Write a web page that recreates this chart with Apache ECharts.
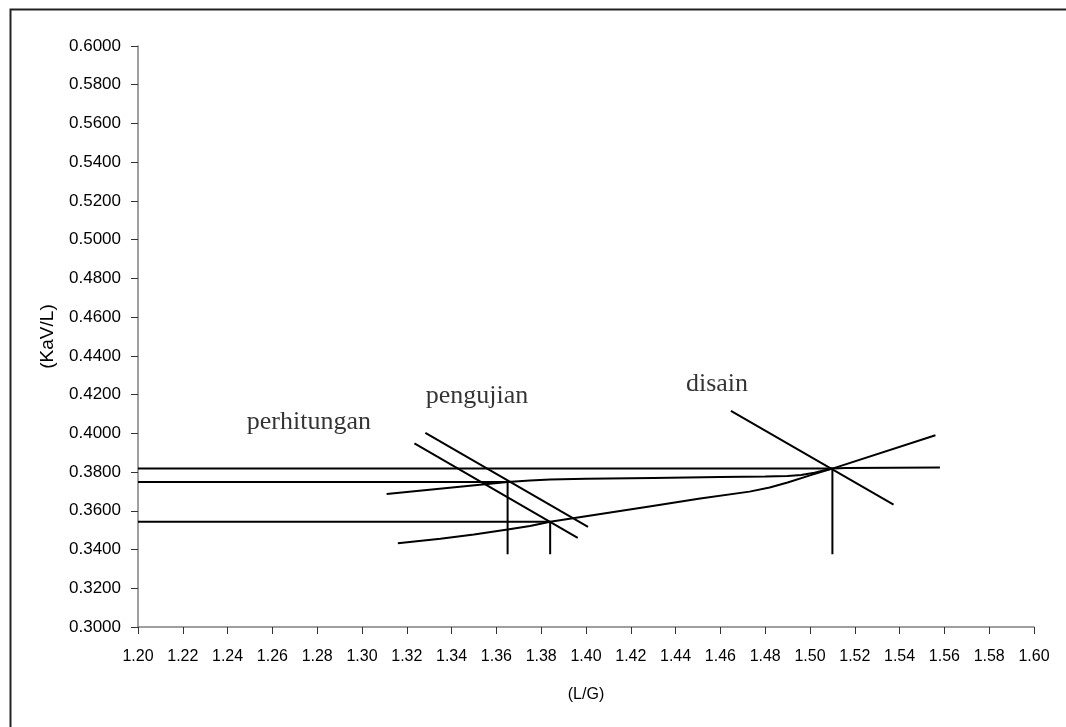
<!DOCTYPE html>
<html>
<head>
<meta charset="utf-8">
<script src="https://cdn.jsdelivr.net/npm/echarts@6/dist/echarts.min.js"></script>
<style>
  html, body { margin: 0; padding: 0; background: #fff; }
  #chart { width: 1066px; height: 727px; }
</style>
</head>
<body>
<div id="chart"></div>
<script>
// garis bantu (horizontal lalu turun vertikal)
const guideTop = [[1.20, 0.3818], [1.51, 0.3818], [1.51, 0.3376]];
const guideMiddle = [[1.20, 0.3749], [1.365, 0.3749], [1.365, 0.3376]];
const guideBottom = [[1.20, 0.3543], [1.384, 0.3543], [1.384, 0.3376]];

// kurva kesetimbangan
const curveUpper = [
  [1.311, 0.3687], [1.365, 0.3749], [1.375, 0.3757], [1.384, 0.3761],
  [1.400, 0.3765], [1.430, 0.3770], [1.460, 0.3774], [1.480, 0.3777],
  [1.490, 0.3780], [1.496, 0.3785], [1.502, 0.3797], [1.506, 0.3808],
  [1.510, 0.3818], [1.516, 0.3821], [1.558, 0.3824]
];
const curveLower = [
  [1.316, 0.3432], [1.335, 0.3456], [1.350, 0.3478], [1.365, 0.3503],
  [1.375, 0.3522], [1.384, 0.3543], [1.429, 0.3624], [1.451, 0.3664],
  [1.473, 0.3699], [1.482, 0.3720], [1.490, 0.3746], [1.500, 0.3783],
  [1.510, 0.3818], [1.556, 0.3990]
];

// garis operasi
const tieA = [[1.3283, 0.4002], [1.4009, 0.3517]];
const tieB = [[1.3234, 0.3948], [1.3963, 0.3460]];
const tieDisain = [[1.4647, 0.4116], [1.5373, 0.3632]];

const labelTexts = ['perhitungan', 'pengujian', 'disain'];
const labelPoints = [[1.2763, 0.4057], [1.3513, 0.4191], [1.4585, 0.4254]];

let myChart = echarts.init(document.getElementById('chart'));

function blackLine(data) {
  return {
    type: 'line',
    data: data,
    showSymbol: false,
    lineStyle: { color: '#000', width: 2 },
    silent: true
  };
}

myChart.setOption({
  animation: false,
  backgroundColor: '#fff',
  graphic: [{
    type: 'rect',
    left: 8,
    top: 7,
    shape: { width: 1200, height: 900 },
    style: { fill: 'none', stroke: '#222', lineWidth: 2 },
    silent: true
  }],
  grid: { left: 138, right: 32, top: 46, bottom: 100 },
  xAxis: {
    type: 'value',
    min: 1.20,
    max: 1.60,
    interval: 0.02,
    name: '(L/G)',
    nameLocation: 'middle',
    nameGap: 60,
    nameTextStyle: { fontFamily: 'Liberation Sans', fontSize: 16, color: '#000' },
    axisLine: { lineStyle: { color: '#808080', width: 1.5 } },
    axisTick: { length: 7, lineStyle: { color: '#333' } },
    axisLabel: {
      margin: 22,
      fontFamily: 'Liberation Sans',
      fontSize: 16,
      color: '#000',
      formatter: (v) => v.toFixed(2)
    },
    splitLine: { show: false }
  },
  yAxis: {
    type: 'value',
    min: 0.30,
    max: 0.60,
    interval: 0.02,
    name: '(KaV/L)',
    nameLocation: 'middle',
    nameGap: 81,
    nameTextStyle: { fontFamily: 'Liberation Sans', fontSize: 19, color: '#000' },
    axisLine: { show: true, lineStyle: { color: '#808080', width: 1.5 } },
    axisTick: { show: true, length: 7, lineStyle: { color: '#333' } },
    axisLabel: {
      margin: 17,
      fontFamily: 'Liberation Sans',
      fontSize: 17,
      color: '#000',
      formatter: (v) => v.toFixed(4)
    },
    splitLine: { show: false }
  },
  series: [
    blackLine(guideTop),
    blackLine(guideMiddle),
    blackLine(guideBottom),
    blackLine(curveUpper),
    blackLine(curveLower),
    blackLine(tieA),
    blackLine(tieB),
    blackLine(tieDisain),
    {
      type: 'scatter',
      symbolSize: 0,
      silent: true,
      data: labelPoints.map((p, i) => ({ value: p, name: labelTexts[i] })),
      label: {
        show: true,
        position: 'inside',
        formatter: (p) => p.name,
        fontFamily: 'Liberation Serif',
        fontSize: 26,
        color: '#000',
        align: 'center',
        verticalAlign: 'middle'
      }
    }
  ]
});
</script>
</body>
</html>
